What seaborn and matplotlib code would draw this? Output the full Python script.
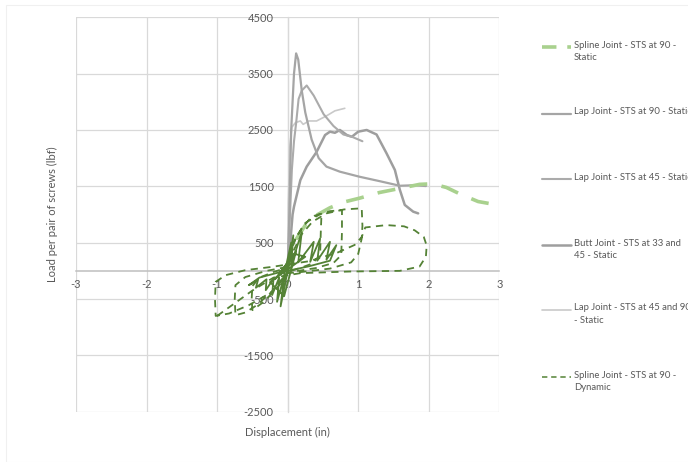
import matplotlib
matplotlib.use("Agg")
import matplotlib.pyplot as plt
import seaborn as sns
from matplotlib.lines import Line2D

# ---------------- data ----------------
spline_static_x = [0, 0.05, 0.12, 0.25, 0.37, 0.6, 0.81, 1.02, 1.3, 1.59, 1.87, 2.05, 2.25, 2.45, 2.7, 2.97]
spline_static_y = [0, 300, 560, 810, 960, 1120, 1225, 1290, 1390, 1463, 1535, 1545, 1480, 1360, 1230, 1170]

lap90_x = [0, 0.02, 0.05, 0.09, 0.12, 0.15, 0.2, 0.25, 0.34, 0.44, 0.55, 0.74, 1.02, 1.31, 1.59, 1.8, 1.96]
lap90_y = [0, 800, 2500, 3500, 3860, 3750, 3200, 2810, 2330, 2000, 1850, 1760, 1670, 1590, 1510, 1520, 1505]

lap45_x = [0, 0.03, 0.06, 0.09, 0.12, 0.155, 0.2, 0.27, 0.37, 0.51, 0.65, 0.79, 0.91, 1.06]
lap45_y = [0, 900, 1800, 2300, 2620, 3050, 3200, 3290, 3110, 2780, 2570, 2420, 2380, 2300]

butt_x = [0, 0.01, 0.03, 0.05, 0.07, 0.09, 0.18, 0.27, 0.41, 0.53, 0.60, 0.67, 0.74, 0.84, 0.91, 1.0, 1.12, 1.26, 1.40, 1.52, 1.59, 1.66, 1.78, 1.85]
butt_y = [0, 100, 300, 700, 1000, 1140, 1610, 1850, 2110, 2410, 2470, 2450, 2500, 2410, 2380, 2470, 2500, 2420, 2090, 1790, 1440, 1170, 1050, 1020]

lap4590_x = [0, 0.01, 0.03, 0.06, 0.11, 0.18, 0.22, 0.30, 0.41, 0.55, 0.67, 0.81]
lap4590_y = [0, 1200, 2200, 2550, 2630, 2660, 2600, 2660, 2660, 2750, 2840, 2885]

dyn_inner_x = [0, 0.08, 0.05, 0.2, 0.15, 0.37, 0.32, 0.46, 0.42, 0.6, 0.55, 0.69, 0.6, 0.3, 0.0,
               -0.1, -0.05, -0.15, -0.12, -0.22, -0.2, -0.31, -0.3, -0.45, -0.42, -0.55, -0.4, -0.1,
               0.1, 0.25, -0.25, -0.05, 0.12, -0.18, 0.02, 0.05, -0.08, 0.0]
dyn_inner_y = [0, 630, 100, 690, 150, 515, 160, 574, 180, 515, 200, 456, 180, 80, 0,
               -630, -100, -550, -120, -430, -140, -343, -150, -300, -160, -254, -120, -20,
               300, 250, -200, -450, 350, -150, 100, 500, -250, 0]

dyn_outer_x = [0, 0.03, 0.06, 0.2, 0.34, 0.48, 0.47, 0.46, 0.35, 0.2, 0.0,
               -0.08, -0.2, -0.35, -0.5, -0.51, -0.5, -0.4, -0.2, 0.0,
               0.05, 0.12, 0.25, 0.45, 0.6, 0.77, 0.77, 0.76, 0.65, 0.4, 0.0,
               -0.1, -0.25, -0.45, -0.6, -0.74, -0.75, -0.74, -0.6, -0.3, 0.0,
               0.08, 0.2, 0.35, 0.55, 0.8, 1.05, 1.06, 1.05, 1.0, 0.9, 0.6, 0.2, 0.0,
               -0.12, -0.22, -0.55, -0.83, -1.02, -1.03, -1.02, -0.88, -0.6, -0.22, 0.3, 0.7, 0.95, 1.05,
               1.1, 1.40, 1.65, 1.8, 1.93, 1.97, 1.96, 1.87, 1.59, 0.88, 0.18, -0.2, -0.5, -0.8, -1.0, -1.06]
dyn_outer_y = [0, 250, 455, 750, 960, 1020, 700, 280, 130, 60, -20,
               -200, -370, -560, -698, -500, -270, -120, -20, 60,
               350, 600, 850, 1000, 1060, 1077, 700, 280, 140, 50, -30,
               -200, -400, -620, -740, -787, -500, -254, -110, 0, 70,
               350, 650, 870, 1020, 1090, 1110, 800, 575, 300, 150, 40, -20, -40,
               -200, -373, -609, -757, -800, -500, -195, -77, 12, 71, 170, 320, 460, 600,
               770, 812, 790, 720, 600, 450, 253, 76, 0, -12, -41, -120, -350, -620, -800, -860]

x_ticks = [-3, -2, -1, 0, 1, 2, 3]
y_ticks = [-2500, -1500, -500, 500, 1500, 2500, 3500, 4500]

labels = ["Spline Joint - STS at 90 -\nStatic",
          "Lap Joint - STS at 90 - Static",
          "Lap Joint - STS at 45 - Static",
          "Butt Joint - STS at 33 and\n45 - Static",
          "Lap Joint - STS at 45 and 90\n- Static",
          "Spline Joint - STS at 90 -\nDynamic"]

# ---------------- style ----------------
sns.set_theme(style="white")
plt.rcParams['font.family'] = ['Lato', 'DejaVu Sans']
plt.rcParams['axes.unicode_minus'] = False

W, H = 688, 462
fig = plt.figure(figsize=(W / 100, H / 100), dpi=100)
ax = fig.add_axes([76 / W, 1 - 411.7 / H, (499.3 - 76) / W, (411.7 - 17.3) / H])

c_light_green = "#A9D18E"
c_dark_green = "#548235"
c_lap90 = "#A5A5A5"
c_lap45 = "#ABABAB"
c_butt = "#9E9E9E"
c_lap4590 = "#C9C9C9"
txt = "#595959"

legend_styles = [
    (c_light_green, 2.6, (0, (4, 3))),
    (c_lap90, 1.6, "-"),
    (c_lap45, 1.5, "-"),
    (c_butt, 1.8, "-"),
    (c_lap4590, 1.2, "-"),
    (c_dark_green, 1.1, (0, (3.5, 2.5))),
]

def draw(x, y, color, lw, ls, z):
    sns.lineplot(x=x, y=y, sort=False, estimator=None, color=color, linewidth=lw,
                 linestyle=ls, ax=ax, zorder=z)

draw(lap4590_x, lap4590_y, c_lap4590, 1.2, "-", 3)
draw(butt_x, butt_y, c_butt, 1.8, "-", 3)
draw(lap45_x, lap45_y, c_lap45, 1.5, "-", 3)
draw(lap90_x, lap90_y, c_lap90, 1.6, "-", 3)
draw(spline_static_x, spline_static_y, c_light_green, 2.6, (0, (5, 4)), 4)
draw(dyn_outer_x, dyn_outer_y, c_dark_green, 1.3, (0, (4, 3)), 5)
draw(dyn_inner_x, dyn_inner_y, c_dark_green, 1.3, "-", 5)

ax.set_xlim(-3, 3)
ax.set_ylim(-2500, 4500)
ax.set_xticks(x_ticks)
ax.set_xticklabels([str(v) for v in x_ticks])
ax.set_yticks(y_ticks)
ax.set_yticklabels([str(v) for v in y_ticks])
ax.grid(True, color="#D9D9D9", linewidth=0.9, zorder=0)
ax.set_axisbelow(True)

for s in ["top", "right"]:
    ax.spines[s].set_visible(False)
ax.spines["left"].set_position(("data", 0))
ax.spines["bottom"].set_position(("data", 0))
ax.spines["left"].set_color("#D9D9D9")
ax.spines["left"].set_linewidth(0.9)
ax.spines["bottom"].set_color("#BFBFBF")
ax.spines["bottom"].set_linewidth(1.1)
ax.tick_params(axis="both", length=0, labelsize=8, colors=txt)
ax.tick_params(axis="y", pad=10)
ax.tick_params(axis="x", pad=6)

ax.set_xlabel("Displacement (in)", fontsize=8, color=txt)
ax.set_ylabel("Load per pair of screws (lbf)", fontsize=8, color=txt)
ax.xaxis.set_label_coords(0.5, -0.038)
ax.yaxis.set_label_coords(-0.043, 0.5)

# ---------------- legend (manual, Excel style) ----------------
handle_y = [47, 114, 179, 245, 310, 377]
for (col, lw, ls), lab, hy in zip(legend_styles, labels, handle_y):
    fy = 1 - hy / H
    fig.add_artist(Line2D([542 / W, 571 / W], [fy, fy], color=col, linewidth=lw,
                          linestyle=ls, transform=fig.transFigure))
    fig.text(574 / W, 1 - (hy - 6.5) / H, lab, fontsize=6.8, color=txt, va="top",
             ha="left", linespacing=1.55)

# faint chart border
fig.add_artist(plt.Rectangle((6 / W, 0), 1, 1 - 5 / H, fill=False, edgecolor="#F0F0F0",
                             linewidth=0.8, transform=fig.transFigure))

fig.savefig("out.png", dpi=100)
